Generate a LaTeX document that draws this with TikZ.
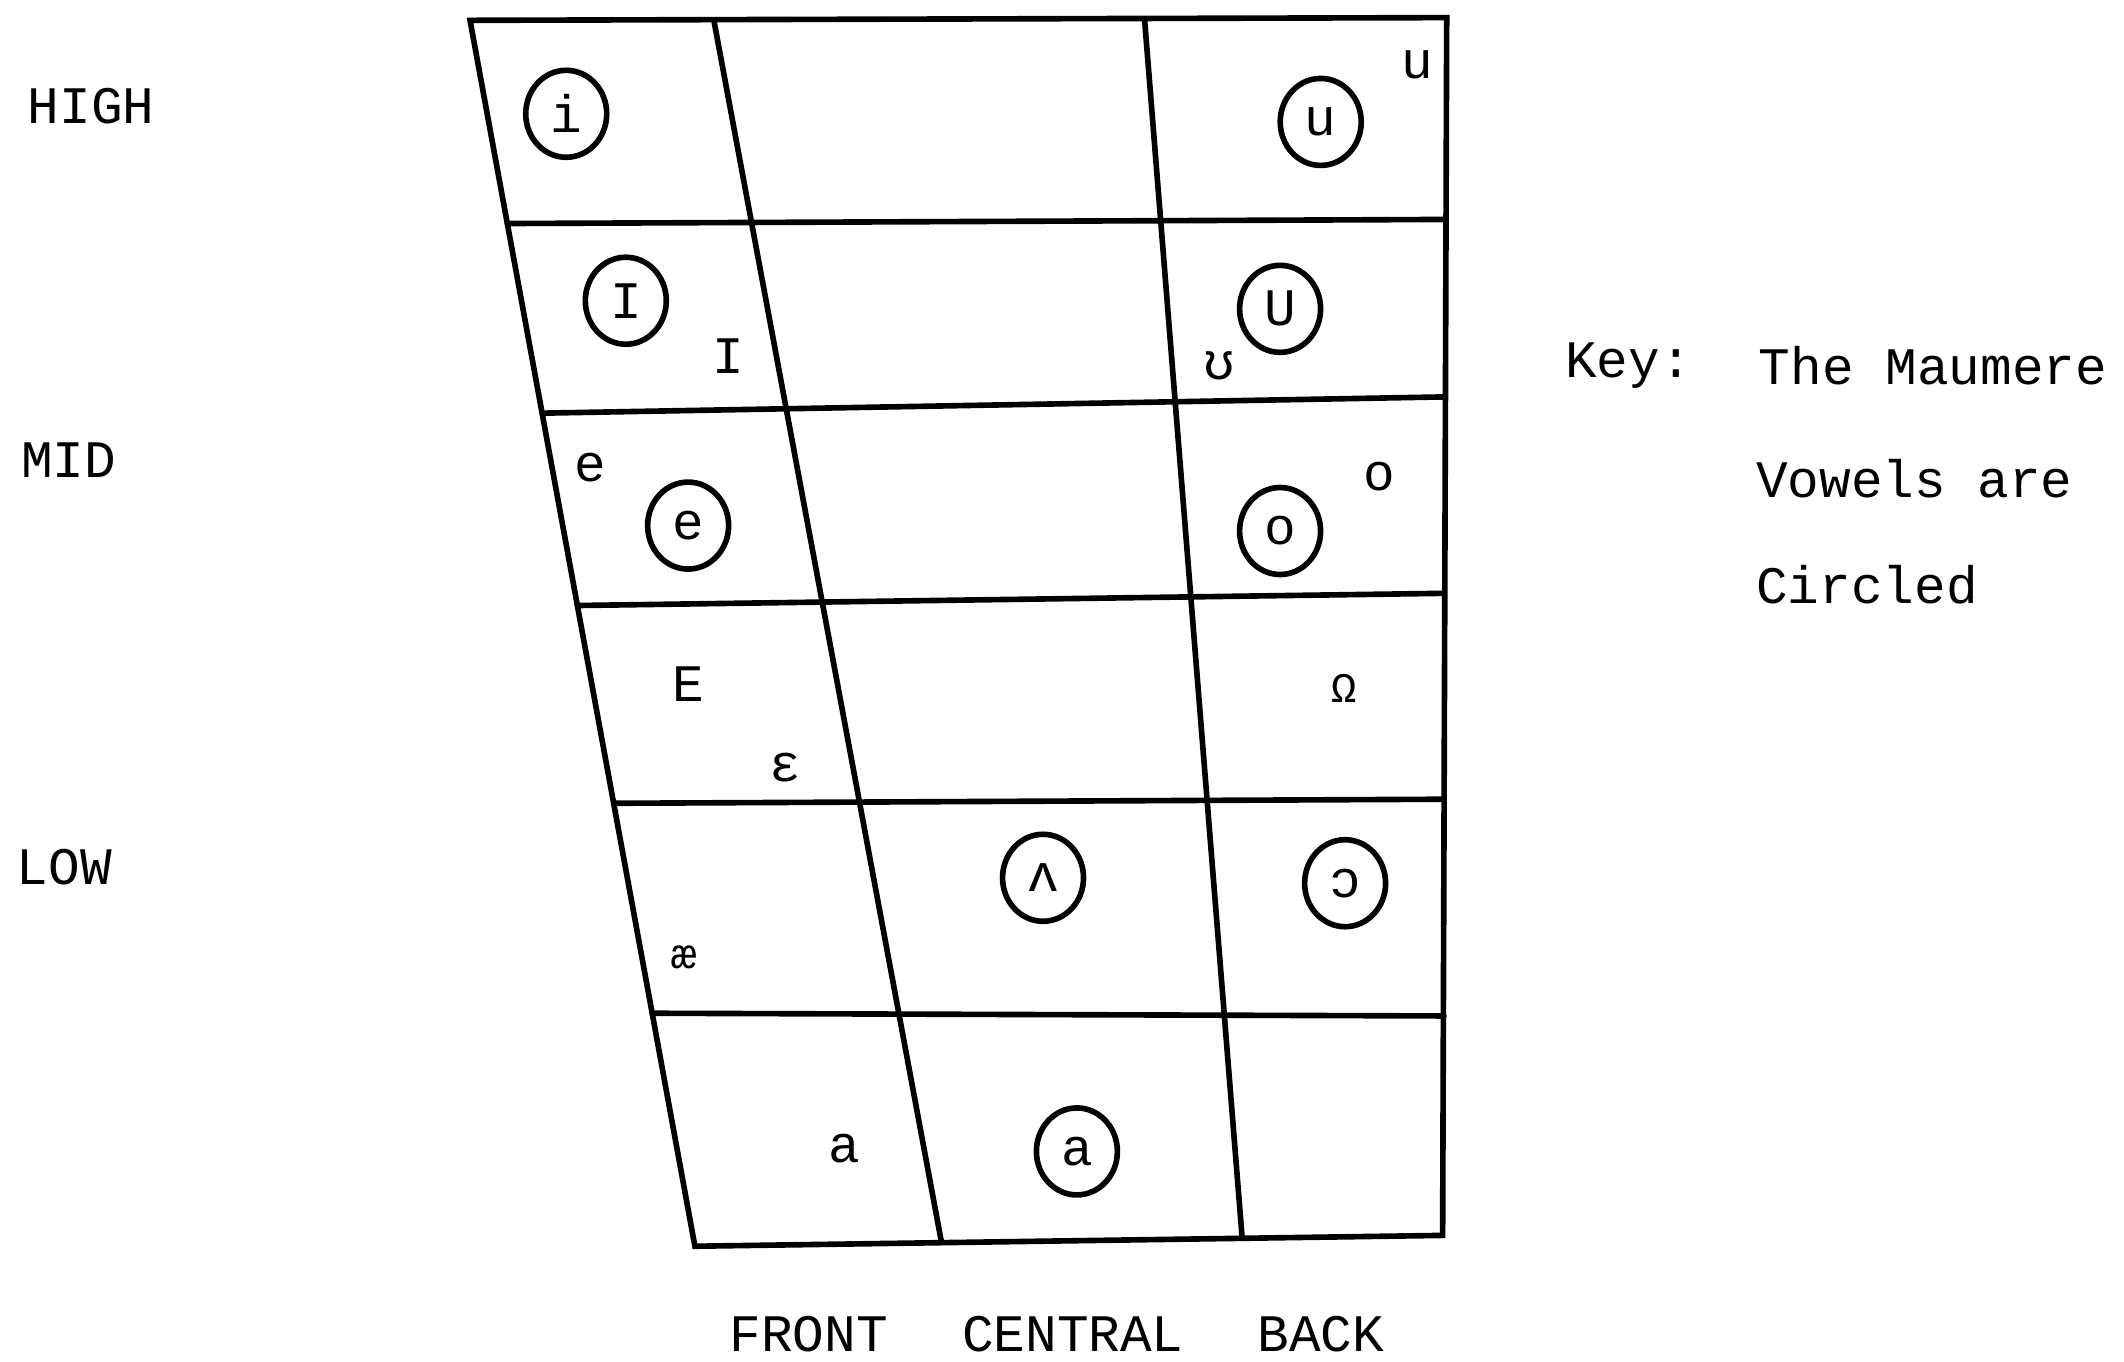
\documentclass[tikz,border=0pt]{standalone}
\usepackage{fontspec}
\setmainfont{Liberation Mono}
\usetikzlibrary{shapes.geometric}
\begin{document}
\begin{tikzpicture}[x=0.135466mm,y=-0.135466mm,grid/.style={line width=1.6pt,line cap=round},vow/.style={inner sep=0pt,font=\fontsize{15}{18}\selectfont},vowS/.style={vow,font=\fontsize{12}{14}\selectfont},vowC/.style={vow,shape=ellipse,draw=black,line width=1.6pt,minimum width=8.1mm,minimum height=8.7mm},lab/.style={inner sep=0pt,anchor=west,font=\fontsize{15}{18}\selectfont}]
\useasboundingbox (0,0) rectangle (1568,1005);
\def\slope{0.1834};

% outline
\coordinate (TL) at (347,15);
\coordinate (TR) at (1068,13);
\coordinate (BL) at (513,920);
\coordinate (BR) at (1065,912);
\draw[grid] (TL) -- (TR) -- (BR) -- (BL) -- cycle;

% rows
\foreach \yl/\yr in {165/162,305/293,447/438,593/590,748/750}
  \draw[grid] ({347+\slope*(\yl-15)},\yl) -- (1066,\yr);

% columns
\coordinate (FC) at (527,15);
\coordinate (FC') at (695,917);
\draw[grid] (FC) -- (FC');
\coordinate (CB) at (845,15);
\coordinate (CB') at (917,914);
\draw[grid] (CB) -- (CB');

% height labels
\node[lab] (high) at (20,78) {HIGH};
\node[lab] (mid) at (15,340) {MID};
\node[lab] (low) at (12,640) {LOW};

% Maumere vowels
\node[vowC] (i) at (418,84) {i};
\node[vowC] (u) at (975,90) {u};
\node[vowC] (I) at (462,222) {I};
\node[vowC] (U) at (945,228) {U};
\node[vowC] (e) at (508,388) {e};
\node[vowC] (o) at (945,392) {o};
\node[vowC] (V) at (770,648) {ʌ};
\node[vowC] (O) at (993,652) {ɔ};
\node[vowC] (a) at (795,850) {a};

% other vowels
\node[vow] (u2) at (1046,48) {u};
\node[vow] (I2) at (538,263) {I};
\node[vow] (U2) at (900,270) {ʊ};
\node[vow] (e2) at (436,345) {e};
\node[vow] (o2) at (1018,352) {o};
\node[vow] (E) at (508,505) {E};
\node[vowS] (W) at (992,508) {Ω};
\node[vow] (ep) at (580,567) {ɛ};
\node[vowS] (ae) at (505,707) {æ};
\node[vow] (a2) at (623,848) {a};

% column labels
\node[vow] (front) at (597,985) {FRONT};
\node[vow] (central) at (792,985) {CENTRAL};
\node[vow] (back) at (975,985) {BACK};

% key
\node[lab] (key) at (1155,270) {Key:};
\node[lab] (key1) at (1298,270) {The Maumere};
\node[lab] (key2) at (1296,353) {Vowels are};
\node[lab] (key3) at (1296,432) {Circled};
\end{tikzpicture}
\end{document}
